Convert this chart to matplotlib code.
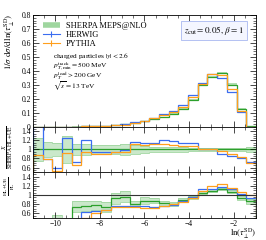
import numpy as np
import matplotlib
matplotlib.use("Agg")
import matplotlib.pyplot as plt
from matplotlib.lines import Line2D
from matplotlib.ticker import MultipleLocator, FormatStrFormatter

plt.rcParams['font.family'] = ['Liberation Serif', 'DejaVu Serif']
plt.rcParams['mathtext.fontset'] = 'stix'

# 23 equal bins in ln(tau_perp^SD)
edges = np.linspace(-11, -1, 24)

# main panel: 1/sigma dsigma/dln(tau)
sherpa = [0.0005, 0.001, 0.0015, 0.002, 0.003, 0.004, 0.006, 0.009, 0.013, 0.018,
          0.027, 0.039, 0.054, 0.072, 0.095, 0.131, 0.195, 0.303, 0.360, 0.386,
          0.303, 0.131, 0.004]
sherpa_band = [0.0001, 0.0002, 0.0002, 0.0003, 0.0003, 0.0004, 0.0005, 0.0006, 0.0008, 0.001,
               0.0012, 0.0015, 0.002, 0.002, 0.003, 0.003, 0.004, 0.005, 0.005, 0.006,
               0.012, 0.006, 0.0005]
herwig = [0.0008, 0.0008, 0.0009, 0.0025, 0.0022, 0.005, 0.0058, 0.0086, 0.0125, 0.018,
          0.032, 0.046, 0.063, 0.089, 0.115, 0.155, 0.230, 0.315, 0.378, 0.350,
          0.250, 0.105, 0.003]
pythia = [0.0004, 0.0008, 0.0008, 0.0019, 0.002, 0.0038, 0.0056, 0.0083, 0.0125, 0.017,
          0.030, 0.044, 0.062, 0.083, 0.107, 0.144, 0.215, 0.310, 0.378, 0.370,
          0.270, 0.114, 0.003]

# ratio X / Sherpa HL+UE
r1_sherpa_err = [0.25, 0.16, 0.15, 0.3, 0.12, 0.13, 0.1, 0.1, 0.1, 0.12,
                 0.1, 0.07, 0.06, 0.06, 0.05, 0.05, 0.04, 0.03, 0.03, 0.03,
                 0.03, 0.04, 0.05]
r1_herwig = [1.6, 0.79, 0.59, 1.25, 0.72, 1.22, 0.95, 0.95, 0.95, 0.99,
             1.17, 1.14, 1.14, 1.20, 1.18, 1.14, 1.14, 1.01, 1.01, 0.91,
             0.86, 0.81, 0.73]
r1_pythia = [0.88, 0.78, 0.52, 0.93, 0.66, 0.95, 0.91, 0.91, 0.95, 0.95,
             1.12, 1.09, 1.12, 1.12, 1.09, 1.07, 1.07, 1.02, 1.02, 0.96,
             0.90, 0.83, 0.69]

# ratio HL+UE / PL
r2_sherpa = [0.4, 0.4, 0.45, 0.4, 0.74, 0.76, 0.78, 0.74, 0.93, 0.96,
             0.80, 0.88, 0.88, 0.82, 0.80, 0.89, 0.95, 1.05, 1.09, 1.13,
             1.07, 0.93, 0.86]
r2_sherpa_err = [0.1, 0.1, 0.12, 0.1, 0.12, 0.1, 0.1, 0.1, 0.12, 0.12,
                 0.06, 0.08, 0.05, 0.06, 0.05, 0.04, 0.03, 0.03, 0.03, 0.03,
                 0.03, 0.04, 0.06]
r2_herwig = [0.4, 0.4, 0.4, 0.4, 0.4, 0.62, 0.65, 0.67, 0.76, 0.76,
             0.77, 0.75, 0.73, 0.75, 0.78, 0.87, 0.95, 1.13, 1.14, 1.18,
             1.13, 1.02, 0.93]
r2_pythia = [0.4, 0.4, 0.4, 0.4, 0.4, 0.5, 0.6, 0.67, 0.74, 0.74,
             0.74, 0.72, 0.72, 0.77, 0.80, 0.84, 0.93, 1.09, 1.20, 1.23,
             1.16, 1.07, 0.99]

green = '#2ca02c'
band = '#9fd69f'
blue = '#3a6df0'
orange = '#ff9f1c'

sherpa = np.array(sherpa)
s_band = np.array(sherpa_band)

fig = plt.figure(figsize=(2.66, 2.40), dpi=100)
L, W = 0.124, 0.838
ax = fig.add_axes([L, 0.471, W, 0.4667])
ax1 = fig.add_axes([L, 0.2833, W, 0.1877])
ax2 = fig.add_axes([L, 0.0917, W, 0.1916])

lw = 0.9
ax.stairs(sherpa + s_band, edges, baseline=sherpa - s_band,
          fill=True, color=band, alpha=0.8, lw=0)
ax.stairs(sherpa, edges, color=green, lw=lw)
ax.stairs(herwig, edges, color=blue, lw=lw)
ax.stairs(pythia, edges, color=orange, lw=lw)

ones = np.ones(len(sherpa))
e1 = np.array(r1_sherpa_err)
ax1.stairs(ones + e1, edges, baseline=ones - e1, fill=True, color=band, alpha=0.55, lw=0)
ax1.stairs(ones + e1, edges, color=band, lw=0.6)
ax1.stairs(ones - e1, edges, color=band, lw=0.6)
ax1.stairs(ones, edges, color=green, lw=lw)
ax1.stairs(r1_herwig, edges, color=blue, lw=lw)
ax1.stairs(r1_pythia, edges, color=orange, lw=lw)

r2s = np.array(r2_sherpa)
r2e = np.array(r2_sherpa_err)
ax2.axhline(1, color='#333333', lw=0.8)
ax2.stairs(r2s + r2e, edges, baseline=r2s - r2e, fill=True, color=band, alpha=0.55, lw=0)
ax2.stairs(r2s + r2e, edges, color=band, lw=0.6)
ax2.stairs(r2s - r2e, edges, color=band, lw=0.6)
ax2.stairs(r2s, edges, color=green, lw=lw)
ax2.stairs(r2_herwig, edges, color=blue, lw=lw)
ax2.stairs(r2_pythia, edges, color=orange, lw=lw)

ax.set_ylim(0, 0.8)
ax1.set_ylim(0.5, 1.5)
ax2.set_ylim(0.5, 1.5)

for a in (ax, ax1, ax2):
    a.set_xlim(-11, -1)
    a.xaxis.set_major_locator(MultipleLocator(2))
    a.xaxis.set_minor_locator(MultipleLocator(0.5))
    a.tick_params(which='both', direction='in', top=True, right=True, labelsize=5.5, pad=1.5)
    a.tick_params(which='major', length=4.5, width=0.5)
    a.tick_params(which='minor', length=2, width=0.4)
    for s in a.spines.values():
        s.set_linewidth(0.6)
ax.tick_params(labelbottom=False)
ax1.tick_params(labelbottom=False)
ax.yaxis.set_major_locator(MultipleLocator(0.1))
ax.yaxis.set_minor_locator(MultipleLocator(0.02))
ax.yaxis.set_major_formatter(FormatStrFormatter('%g'))
for a in (ax1, ax2):
    a.set_yticks([0.6, 0.8, 1.0, 1.2, 1.4])
    a.yaxis.set_minor_locator(MultipleLocator(0.05))
    a.yaxis.set_major_formatter(FormatStrFormatter('%g'))

ax.set_ylabel(r'$1/\sigma\ \mathrm{d}\sigma/\mathrm{d}\,\ln(\tau_\perp^{\mathrm{SD}})$',
              fontsize=6.3, loc='top')
ax.yaxis.set_label_coords(-0.072, 1.01)
ax1.set_ylabel(r'$\frac{X}{\mathrm{SHERPA\ HL{+}UE}}$', fontsize=5.8)
ax1.yaxis.set_label_coords(-0.08, 0.55)
ax2.set_ylabel(r'$\frac{\mathrm{HL{+}UE}}{\mathrm{PL}}$', fontsize=5.5)
ax2.yaxis.set_label_coords(-0.072, 0.7)
ax2.set_xlabel(r'$\ln(\tau_\perp^{\mathrm{SD}})$', fontsize=6.2, loc='right')
ax2.xaxis.set_label_coords(1.0, -0.2)

handles = [Line2D([], [], color=band, lw=4, solid_capstyle='butt'),
           Line2D([], [], color=blue, lw=0.8, marker='|', ms=5, mew=0.8),
           Line2D([], [], color=orange, lw=0.8, marker='|', ms=5, mew=0.8)]
labels = ['SHERPA MEPS@NLO', 'HERWIG', 'PYTHIA']
ax.legend(handles, labels, loc='upper left', bbox_to_anchor=(0.045, 0.935), frameon=False,
          fontsize=6, handlelength=2.0, handletextpad=0.7, labelspacing=0.1,
          borderaxespad=0, borderpad=0)

info = [r'charged particles $|y| < 2.6$',
        r'$p_{T,\mathrm{min}}^{\mathrm{track}} = 500$ MeV',
        r'$p_T^{\mathrm{lead}} > 200$ GeV',
        r'$\sqrt{s} = 13$ TeV']
for i, t in enumerate(info):
    ax.text(0.09, 0.63 - i * 0.09, t, transform=ax.transAxes, fontsize=5.3, va='center')

ax.text(0.945, 0.86, r'$z_{\mathrm{cut}} = 0.05,\, \beta = 1$', transform=ax.transAxes,
        fontsize=6.5, ha='right', va='center',
        bbox=dict(boxstyle='square,pad=0.35', fc='#f4f6ff', ec='#a8b8f0', lw=0.6))

fig.savefig('out.png', dpi=100)
